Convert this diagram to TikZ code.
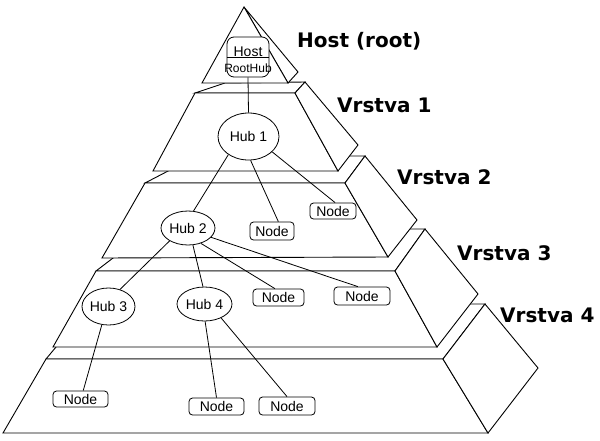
\documentclass[tikz,border=0pt]{standalone}
\usepackage{fontspec}
\setmainfont{Liberation Sans}
\newfontfamily\lblfont{DejaVu Sans}
\usetikzlibrary{shapes.geometric}
\begin{document}
\begin{tikzpicture}[x=1pt,y=-1pt,
  face/.style={draw=black,fill=white,line width=0.9pt,line join=miter},
  hub/.style={ellipse,draw=black,fill=white,line width=0.8pt,inner sep=0pt,font=\fontsize{14}{16}\selectfont},
  nodebox/.style={rectangle,rounded corners=3.5pt,draw=black,fill=white,line width=0.8pt,inner sep=0pt,font=\fontsize{14}{16}\selectfont},
  link/.style={draw=black,line width=0.8pt},
  lbl/.style={anchor=base west,inner sep=0pt,font=\lblfont\bfseries\fontsize{20}{24}\selectfont}]
\useasboundingbox[fill=white] (0,0) rectangle (600,440);

% Layer 4 (bottom)
\draw[face] (46,359) -- (92,304) -- (485,304) -- (443,359) -- cycle;
\draw[face] (46,359) -- (443,359) -- (488,433) -- (3,433) -- cycle;
\draw[face] (443,359) -- (485,304) -- (538,368) -- (488,433) -- cycle;
% Layer 3
\draw[face] (96,271) -- (151,229) -- (425,229) -- (395,271) -- cycle;
\draw[face] (96,271) -- (395,271) -- (437,347) -- (53,347) -- cycle;
\draw[face] (395,271) -- (425,229) -- (478,294) -- (437,347) -- cycle;
% Layer 2
\draw[face] (145,183) -- (197,156) -- (365,156) -- (345,183) -- cycle;
\draw[face] (145,183) -- (345,183) -- (388,257) -- (102,258) -- cycle;
\draw[face] (345,183) -- (365,156) -- (417,220) -- (388,257) -- cycle;
% Layer 1
\draw[face] (195,93) -- (225,83) -- (305,82) -- (295,93) -- cycle;
\draw[face] (195,93) -- (295,93) -- (338,171) -- (153,171) -- cycle;
\draw[face] (295,93) -- (305,82) -- (358,145) -- (338,171) -- cycle;
% Tip
\draw[face] (244,7) -- (298,72) -- (288,83) -- cycle;
\draw[face] (244,7) -- (288,83) -- (202,83) -- cycle;

% Host box
\node[draw=black,fill=white,rounded corners=7pt,minimum width=42pt,minimum height=40pt,line width=0.8pt,inner sep=0pt] (host) at (248,57) {};
\draw[link] (host.west) -- (host.east);
\node[anchor=base,inner sep=0pt,font=\fontsize{14}{16}\selectfont] (hosttxt) at (248,56) {Host};
\node[anchor=base,inner sep=0pt,font=\fontsize{12}{14}\selectfont] (roottxt) at (248,72) {RootHub};

% Hubs
\node[hub,minimum width=61pt,minimum height=47pt] (hub1) at (248.5,136.5) {Hub 1};
\node[hub,minimum width=54pt,minimum height=34pt] (hub2) at (188,228) {Hub 2};
\node[hub,minimum width=53pt,minimum height=37pt] (hub3) at (108.5,306.5) {Hub 3};
\node[hub,minimum width=55pt,minimum height=34pt] (hub4) at (204.5,304) {Hub 4};

% Nodes
\node[nodebox,minimum width=44pt,minimum height=18pt] (nb1) at (272,231) {Node};
\node[nodebox,minimum width=46pt,minimum height=16pt] (nb2) at (333,211) {Node};
\node[nodebox,minimum width=51pt,minimum height=17pt] (nc1) at (278.5,297.5) {Node};
\node[nodebox,minimum width=56pt,minimum height=18pt] (nc2) at (362,296) {Node};
\node[nodebox,minimum width=55pt,minimum height=16pt] (nd1) at (80.5,399) {Node};
\node[nodebox,minimum width=55pt,minimum height=17pt] (nd2) at (216.5,406.5) {Node};
\node[nodebox,minimum width=56pt,minimum height=18pt] (nd3) at (287,406) {Node};

% Connectors
\draw[link] (host.south) -- (hub1.north);
\draw[link] (hub1.222.8) -- (hub2.72.6);
\draw[link] (hub1.275) -- (nb1.56);
\draw[link] (hub1.-33) -- (nb2.76);
\draw[link] (hub2.215.5) -- (hub3.56.7);
\draw[link] (hub2.286) -- (hub4.95);
\draw[link] (hub2.-50.5) -- (nc1.112);
\draw[link] (hub2.-22.6) -- (nc2.114);
\draw[link] (hub3.250.6) -- (nd1.72.6);
\draw[link] (hub4.272) -- (nd2.90);
\draw[link] (hub4.-40) -- (nd3.90);

% Labels
\node[lbl] (lhost) at (297,47) {Host (root)};
\node[lbl] (l1) at (337,112) {Vrstva 1};
\node[lbl] (l2) at (397,184) {Vrstva 2};
\node[lbl] (l3) at (457,260) {Vrstva 3};
\node[lbl] (l4) at (500,322) {Vrstva 4};
\end{tikzpicture}
\end{document}
